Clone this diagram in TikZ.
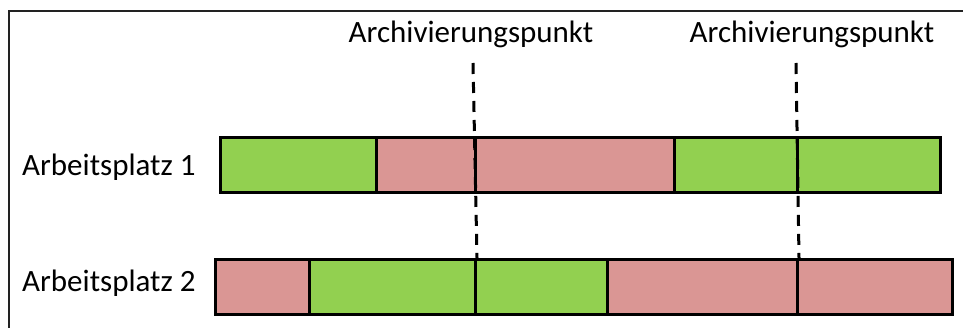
\documentclass[tikz,border=0pt]{standalone}
\usepackage{fontspec}
\setmainfont{Carlito}
\definecolor{grn}{HTML}{92D050}
\definecolor{pnk}{HTML}{DA9694}
\definecolor{frame}{HTML}{222222}
\begin{document}
\begin{tikzpicture}[x=1pt,y=1pt,
  seg/.style={draw=black,line width=3pt,inner sep=0pt,anchor=south west,minimum height=#1},
  seg/.default=55pt,
  lbl/.style={inner sep=0pt,font=\fontsize{31}{36}\selectfont,text=black},
  dsh/.style={draw=black,line width=3pt,dash pattern=on 11pt off 8pt}]
\useasboundingbox (0,0) rectangle (963,327);
\draw[frame,line width=1.5pt] (9,-10) -- (9,316) -- (975,316);
% row 1
\node[seg,fill=grn,minimum width=156pt] (r1a) at (219,133) {};
\node[seg,fill=pnk,minimum width=99pt] (r1b) at (375,133) {};
\node[seg,fill=pnk,minimum width=199pt] (r1c) at (474,133) {};
\node[seg,fill=grn,minimum width=123pt] (r1d) at (673,133) {};
\node[seg,fill=grn,minimum width=143pt] (r1e) at (796,133) {};
% row 2
\node[seg,fill=pnk,minimum width=94pt] (r2a) at (214,11) {};
\node[seg,fill=grn,minimum width=166pt] (r2b) at (308,11) {};
\node[seg,fill=grn,minimum width=132pt] (r2c) at (474,11) {};
\node[seg,fill=pnk,minimum width=190pt] (r2d) at (606,11) {};
\node[seg,fill=pnk,minimum width=155pt] (r2e) at (796,11) {};
% labels
\node[lbl,anchor=west] (w1) at (22,160) {Arbeitsplatz 1};
\node[lbl,anchor=west] (w2) at (22,44) {Arbeitsplatz 2};
\node[lbl,anchor=base] (p1) at (471,284) {Archivierungspunkt};
\node[lbl,anchor=base] (p2) at (812,284) {Archivierungspunkt};
% dashed markers
\coordinate (d1) at (473,264);
\coordinate (d2) at (796,264);
\draw[dsh] (d1) -- (r2b.north east);
\draw[dsh] (d2) -- (r2d.north east);
\end{tikzpicture}
\end{document}
